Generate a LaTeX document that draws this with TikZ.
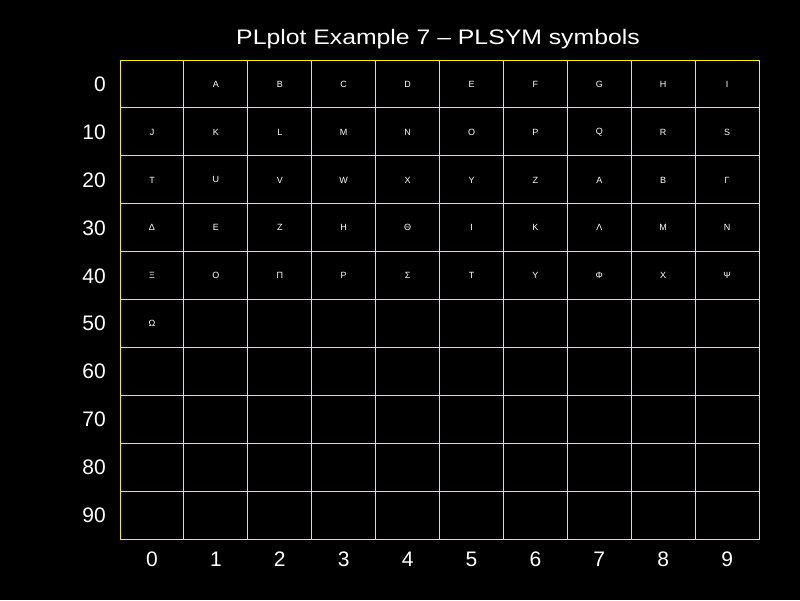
\documentclass[tikz,border=0pt]{standalone}
\usepackage{fontspec}
\setmainfont{Liberation Sans}
\begin{document}
\begin{tikzpicture}[x=1pt,y=-1pt]
  \tikzset{
    gridline/.style={draw=yellow,line width=1pt},
    axislabel/.style={text=white,inner sep=0pt,font=\fontsize{21}{21}\selectfont},
    symbolmark/.style={text=white,inner sep=0pt,font=\fontsize{9}{9}\selectfont}
  }
  % Background
  \fill[black] (0,0) rectangle (800,600);
  \useasboundingbox (0,0) rectangle (800,600);

  % Title
  \node[axislabel,xscale=1.18] (title) at (438,39) {PLplot Example 7 -- PLSYM symbols};

  % Grid
  \foreach \i in {0,...,10}
    \draw[gridline] ({120+63.9*\i},60) -- ({120+63.9*\i},539.5);
  \foreach \j in {0,...,10}
    \draw[gridline] (120,{60+47.95*\j}) -- (759,{60+47.95*\j});

  % Axis labels
  \foreach \j in {0,...,9}
    \node[axislabel,anchor=east] (row\j) at (106,{84+47.95*\j}) {\pgfmathparse{int(10*\j)}\pgfmathresult};
  \foreach \i in {0,...,9}
    \node[axislabel] (col\i) at ({152+63.9*\i},559) {\i};

  % Symbols
  \foreach \s [count=\k from 1] in {A,B,C,D,E,F,G,H,I,J,K,L,M,N,O,P,Q,R,S,T,U,V,W,X,Y,Z,Α,Β,Γ,Δ,Ε,Ζ,Η,Θ,Ι,Κ,Λ,Μ,Ν,Ξ,Ο,Π,Ρ,Σ,Τ,Υ,Φ,Χ,Ψ,Ω}
  {
    \pgfmathtruncatemacro{\c}{mod(\k,10)}
    \pgfmathtruncatemacro{\r}{int(\k/10)}
    \node[symbolmark] (sym\k) at ({152+63.9*\c},{84+47.95*\r}) {\s};
  }
\end{tikzpicture}
\end{document}
